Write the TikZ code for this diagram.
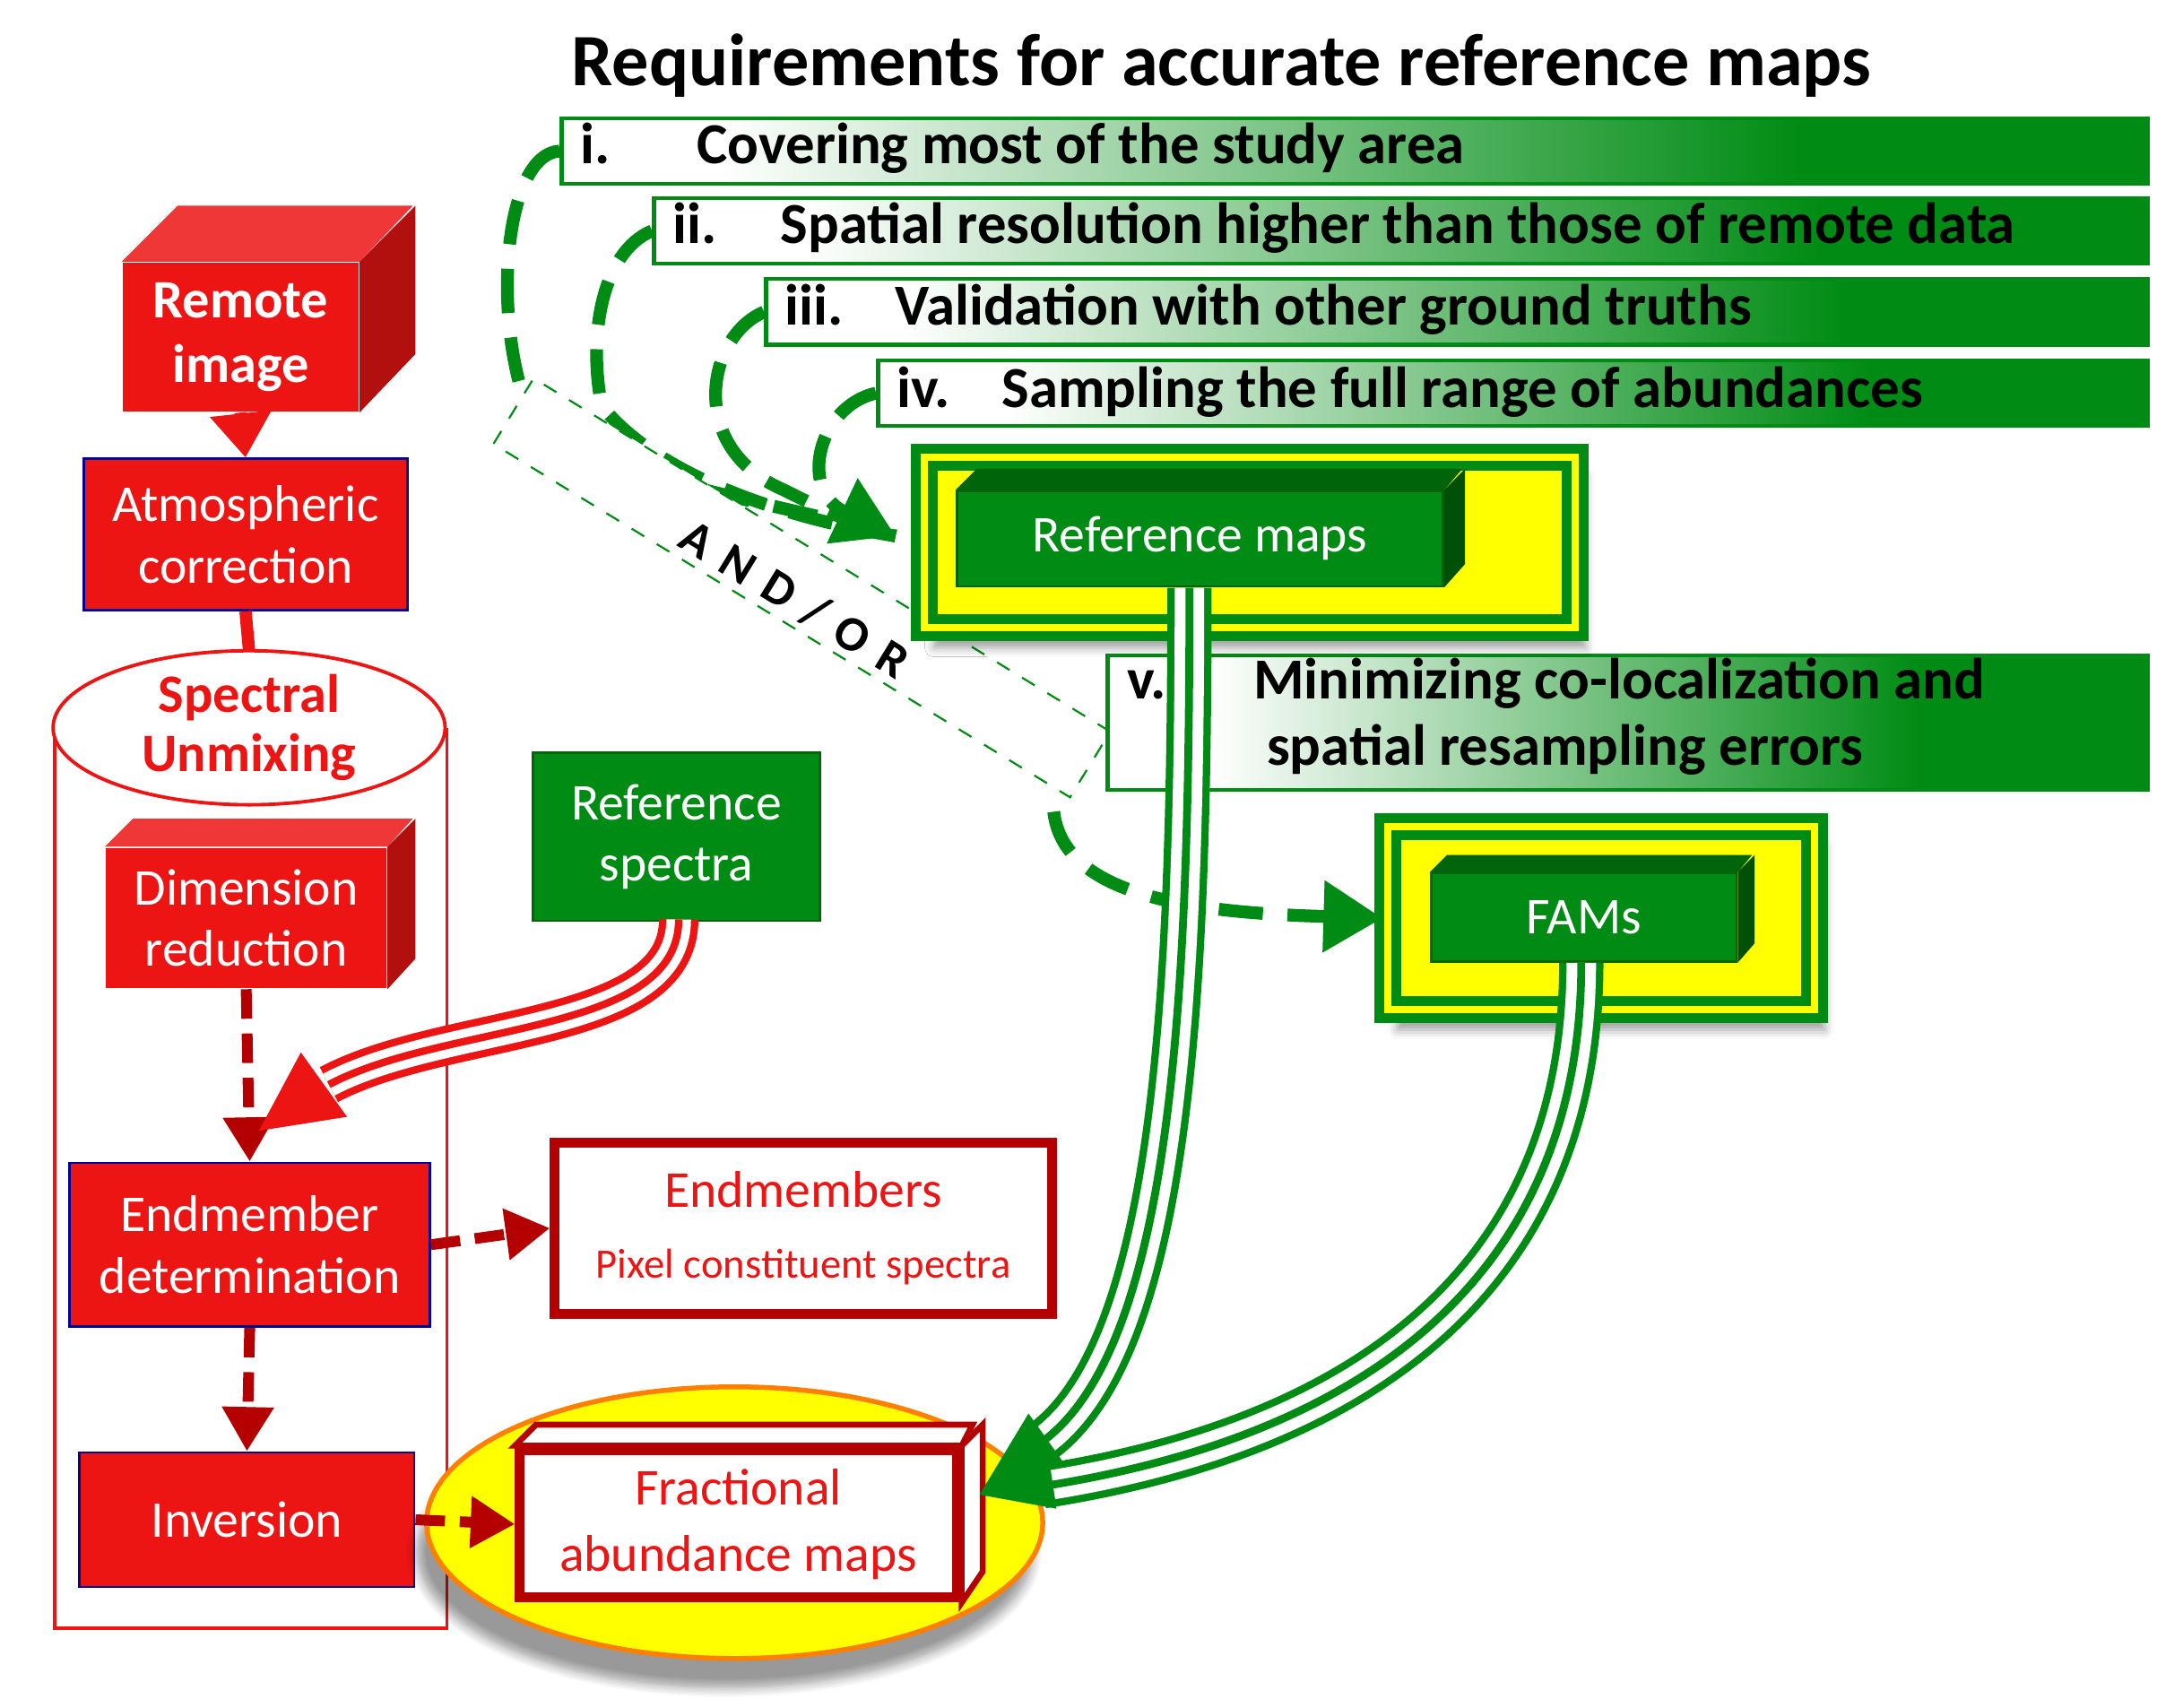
\documentclass[tikz,border=0pt]{standalone}
\usepackage{fontspec}
\setmainfont{Carlito}
\usetikzlibrary{arrows.meta,shadows.blur,shapes.geometric}
\definecolor{G}{RGB}{0,140,20}
\definecolor{DG}{RGB}{0,100,10}
\definecolor{R}{RGB}{237,20,20}
\definecolor{DR}{RGB}{180,0,0}
\definecolor{Y}{RGB}{255,255,0}
\pgfdeclarehorizontalshading{barsh}{100bp}{color(0bp)=(white);color(30bp)=(white);color(64bp)=(G);color(100bp)=(G)}
\tikzset{
 bar/.style={draw=G,line width=0.8pt,shading=barsh,anchor=north west,inner sep=0pt},
 bartxt/.style={anchor=west,font=\fontsize{11.8}{13.5}\selectfont\bfseries,inner sep=0pt},
 rbox/.style={fill=R,draw=blue!60!black,line width=0.5pt,text=white,align=center,inner sep=0pt,font=\fontsize{10.5}{12.5}\selectfont,anchor=north west},
 gbox/.style={fill=G,draw=DG,line width=0.5pt,text=white,align=center,inner sep=0pt,font=\fontsize{10.5}{12.5}\selectfont,anchor=north west},
 gdash/.style={draw=G,line width=2.6pt,dash pattern=on 9pt off 5pt},
 rdash/.style={draw=DR,line width=2.2pt,dash pattern=on 6pt off 3pt,-{Triangle[length=9pt,width=10pt]}},
}
\begin{document}
\begin{tikzpicture}[x=0.01cm,y=-0.01cm]
\useasboundingbox (0,0) rectangle (1560,1220);
% title
\node[font=\fontsize{15}{17}\selectfont\bfseries] (title) at (873,47) {Requirements for accurate reference maps};
% bars
\node[bar,minimum width=11.33cm,minimum height=0.47cm] (b1) at (400,83) {};
\node[bar,minimum width=10.67cm,minimum height=0.47cm] (b2) at (466,140) {};
\node[bar,minimum width=9.87cm,minimum height=0.47cm] (b3) at (546,198) {};
\node[bar,minimum width=9.07cm,minimum height=0.47cm] (b4) at (626,256) {};
\node[bartxt] (t1) at (414,106) {i.\hspace{1.5em}Covering most of the study area};
\node[bartxt] (t2) at (480,163) {ii.\hspace{1.1em}Spatial resolution higher than those of remote data};
\node[bartxt] (t3) at (560,221) {iii.\hspace{0.9em}Validation with other ground truths};
\node[bartxt] (t4) at (640,280) {iv.\hspace{0.9em}Sampling the full range of abundances};
% dashed green curves
\coordinate (rmin) at (640,383);
\draw[gdash] (b1.west) .. controls (360,110) and (350,230) .. (380,300) .. controls (420,340) and (560,360) .. (rmin);
\draw[gdash] (b2.west) .. controls (430,180) and (420,240) .. (430,290) .. controls (470,340) and (560,370) .. (rmin);
\draw[gdash] (b3.west) .. controls (505,240) and (490,320) .. (560,350) .. controls (590,365) and (610,375) .. (rmin);
\draw[gdash,-{Triangle[length=12pt,width=14pt]}] (b4.west) .. controls (585,290) and (570,350) .. (rmin);
% AND/OR box
\node[draw=G,dashed,fill=white,rotate=-31.5,minimum width=4.83cm,minimum height=0.55cm,inner sep=0pt] (andor) at (573,420) {};
\node[rotate=-31.5,font=\fontsize{10}{12}\selectfont\bfseries] (aotxt) at (568,428) {A\,\,N\,\,D\,\,/\,\,O\,\,R};
% bar v
\node[bar,minimum width=7.43cm,minimum height=0.96cm] (b5) at (790,467) {};
\node[bartxt,align=left] (t5) at (805,512) {v.\hspace{1.5em}Minimizing co-localization and\\\hspace{2.4em}spatial resampling errors};
\coordinate (aoend) at (753,580);
% reference maps
\node[draw=G,line width=2pt,double=Y,double distance=1.5pt,fill=Y,anchor=north west,minimum width=4.65cm,minimum height=1.22cm,blur shadow={shadow xshift=2pt,shadow yshift=-4pt}] (rmf) at (657,323) {};
\node[gbox,minimum width=3.47cm,minimum height=0.68cm] (rm) at (683,350) {Reference maps};
\fill[DG] (rm.north west) -- ++(15,-15) -- ++(347,0) -- (rm.north east) -- cycle;
\fill[DG!80!black] (rm.north east) -- ++(15,-15) -- ++(0,68) -- (rm.south east) -- cycle;
% FAMs
\node[draw=G,line width=2pt,double=Y,double distance=1.5pt,fill=Y,anchor=north west,minimum width=3.05cm,minimum height=1.31cm,blur shadow={shadow xshift=2pt,shadow yshift=-4pt}] (fmf) at (988,587) {};
\node[gbox,minimum width=2.18cm,minimum height=0.63cm] (fm) at (1022,623) {FAMs};
\fill[DG] (fm.north west) -- ++(12,-12) -- ++(218,0) -- (fm.north east) -- cycle;
\fill[DG!80!black] (fm.north east) -- ++(12,-12) -- ++(0,63) -- (fm.south east) -- cycle;
\draw[gdash,-{Triangle[length=12pt,width=14pt]}] (aoend) .. controls (760,640) and (850,652) .. (fmf.west);
% left column
\node[draw=R,line width=0.7pt,anchor=north west,minimum width=2.8cm,minimum height=6.42cm,inner sep=0pt] (cyl) at (38,520) {};
\node[rbox,draw=none,minimum width=1.68cm,minimum height=1.06cm,font=\fontsize{11}{13}\selectfont\bfseries] (ri) at (87,187) {Remote\\image};
\fill[R!85!white] (ri.north west) -- ++(40,-40) -- ++(168,0) -- (ri.north east) -- cycle;
\fill[R!75!black] (ri.north east) -- ++(40,-40) -- ++(0,106) -- (ri.south east) -- cycle;
\node[rbox,minimum width=2.31cm,minimum height=1.08cm] (ac) at (59,327) {Atmospheric\\correction};
\draw[R,line width=2.5pt,-{Triangle[length=9pt,width=12pt]}] (ri.south) -- (ac.north);
\draw[R,line width=2.5pt] (ac.south) -- (178,465);
\node[ellipse,draw=R,line width=0.7pt,fill=white,minimum width=2.8cm,minimum height=1.1cm,inner sep=0pt,text=R,align=center,font=\fontsize{11}{12}\selectfont\bfseries] (su) at (178,520) {Spectral\\Unmixing};
\node[rbox,draw=none,minimum width=2cm,minimum height=1cm] (dr) at (75,605) {Dimension\\reduction};
\fill[R!85!white] (dr.north west) -- ++(20,-20) -- ++(200,0) -- (dr.north east) -- cycle;
\fill[R!75!black] (dr.north east) -- ++(20,-20) -- ++(0,100) -- (dr.south east) -- cycle;
\node[gbox,minimum width=2.05cm,minimum height=1.2cm] (rs) at (380,537) {Reference\\spectra};
\node[rbox,minimum width=2.57cm,minimum height=1.17cm] (ed) at (49,830) {Endmember\\determination};
\node[draw=DR,line width=2pt,fill=white,anchor=north west,minimum width=3.55cm,minimum height=1.22cm,inner sep=0pt,align=center,text=R,font=\fontsize{10.5}{12.5}\selectfont] (em) at (393,813) {Endmembers\\[2pt]{\fontsize{8.5}{10}\selectfont Pixel constituent spectra}};
\node[rbox,minimum width=2.39cm,minimum height=0.96cm] (iv) at (56,1037) {Inversion};
% fractional abundance maps
\node[ellipse,draw=orange,line width=1pt,fill=Y,minimum width=4.4cm,minimum height=1.94cm,blur shadow={shadow xshift=-2pt,shadow yshift=-6pt,shadow blur steps=8}] (fe) at (525,1088) {};
\node[draw=DR,line width=2pt,fill=white,anchor=north west,minimum width=3.12cm,minimum height=1.05cm,inner sep=0pt,align=center,text=R,font=\fontsize{10.5}{13.5}\selectfont] (fa) at (368,1033) {Fractional\\abundance maps};
\draw[DR,line width=1.2pt,fill=white] (fa.north west) -- ++(15,-15) -- ++(312,0) -- (fa.north east) -- cycle;
\draw[DR,line width=1.2pt,fill=white] (fa.north east) -- ++(15,-15) -- ++(0,105) -- (fa.south east) -- cycle;
% red flow arrows
\draw[rdash] (dr.south) -- (ed.north);
\draw[rdash] (ed.east) -- (em.west);
\draw[rdash] (ed.south) -- (iv.north);
\draw[rdash] (iv.east) -- (fa.west);
% red triple line
\draw[R,line width=8pt] (485,657) .. controls (485,740) and (320,730) .. (235,775);
\draw[white,line width=5pt] (485,657) .. controls (485,740) and (320,730) .. (235,775);
\draw[R,line width=1.5pt] (485,657) .. controls (485,740) and (320,730) .. (235,775);
\fill[R] (248,798) -- (185,808) -- (215,752) -- cycle;
\coordinate (rstip) at (185,808);
% green triple lines
\foreach \w/\c in {9pt/G,6pt/white,1.6pt/G}{
 \draw[\c,line width=\w] (850,420) .. controls (850,700) and (840,960) .. (745,1030);
 \draw[\c,line width=\w] (1130,688) .. controls (1130,930) and (950,1030) .. (745,1062);
}
\fill[G] (700,1068) -- (735,1010) -- (760,1045) -- cycle;
\fill[G] (700,1068) -- (750,1045) -- (755,1078) -- cycle;
\end{tikzpicture}
\end{document}
